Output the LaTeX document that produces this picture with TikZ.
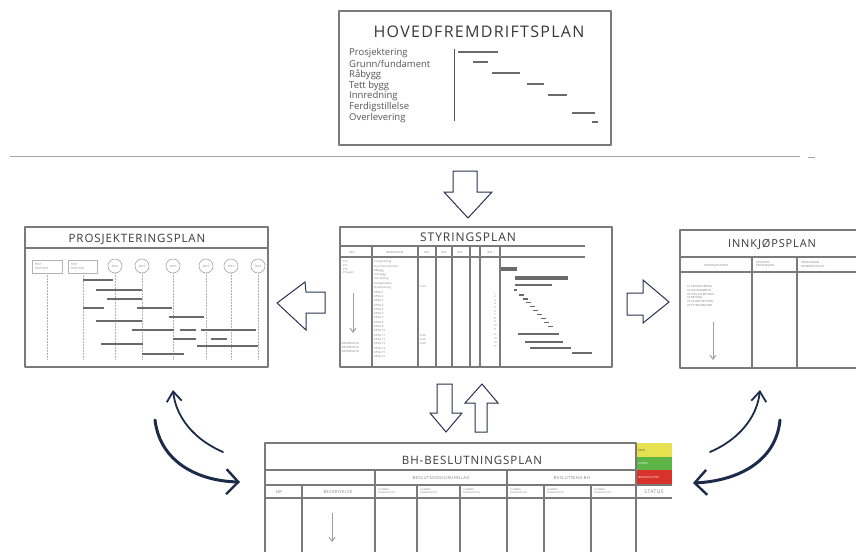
\documentclass[tikz,border=0pt]{standalone}
\usepackage{fontspec}
\setmainfont{Open Sans}
\newfontfamily\hand[LetterSpace=8]{Open Sans}
\usetikzlibrary{arrows.meta}
\definecolor{framegray}{HTML}{7A7A7A}
\definecolor{bargray}{HTML}{6A6A6A}
\definecolor{inkgray}{HTML}{555555}
\definecolor{titleink}{HTML}{383838}
\definecolor{navy}{HTML}{1C2B4A}
\definecolor{arrowink}{HTML}{2A3350}
\definecolor{statyellow}{HTML}{E6E14E}
\definecolor{statgreen}{HTML}{5DB548}
\definecolor{statred}{HTML}{D8322B}
\tikzset{
  frame/.style={draw=framegray, line width=2pt, line join=round},
  rule/.style={draw=framegray, line width=1.2pt},
  thinrule/.style={draw=framegray, line width=0.8pt},
  bar/.style={draw=bargray, line width=2.2pt},
  thinbar/.style={draw=bargray, line width=1.2pt},
  guide/.style={draw=gray!60, line width=0.5pt, densely dotted},
  title/.style={font=\hand\fontsize{#1}{#1}\selectfont, text=titleink, inner sep=0pt},
  tiny/.style={font=\fontsize{2.8}{3.4}\selectfont, text=gray, inner sep=0pt, align=left},
  label/.style={font=\fontsize{9.5}{10}\selectfont, text=inkgray, anchor=west, inner sep=0pt},
  bigarrow/.style={draw=arrowink, line width=1pt, fill=white, line join=miter},
  downarrow/.style={draw=gray!75, line width=1pt, -{Straight Barb[length=4pt,width=6pt]}},
  swoop/.style={draw=navy, line width=1.8pt, line cap=round, -{Straight Barb[length=10pt,width=15pt,line width=1.8pt]}},
  swoopthick/.style={draw=navy, line width=3pt, line cap=round, -{Straight Barb[length=12pt,width=25pt,line width=2.4pt]}},
}
\begin{document}
\begin{tikzpicture}[x=1pt,y=-1pt]
\useasboundingbox (0,0) rectangle (856,552);

% ---------------- main progress plan ----------------
\draw[frame] (339,11) rectangle (611,145);
\node[title=16] (hovtitle) at (479,32) {HOVEDFREMDRIFTSPLAN};
\foreach \t [count=\i] in {Prosjektering,Grunn/fundament,Råbygg,Tett bygg,Innredning,Ferdigstillelse,Overlevering}
  \node[label] (hov\i) at (349,{42.5+\i*10.8}) {\t};
\draw[draw=inkgray, line width=1pt] (454,49) -- (454,121);
\draw[thinbar] (458,52) -- (498,52);
\draw[thinbar] (473,62) -- (488,62);
\draw[thinbar] (492,73) -- (520,73);
\draw[thinbar] (527,84) -- (544,84);
\draw[thinbar] (548,95) -- (567,95);
\draw[thinbar] (572,113) -- (595,113);
\draw[thinbar] (592,122) -- (598,122);

% separator
\draw[draw=gray!70, line width=1pt] (10,156) -- (800,156);
\draw[draw=gray!70, line width=1pt] (808,157) -- (815,157);

% arrow down to the control plan
\draw[bigarrow] (453,171) -- (477,171) -- (477,192) -- (492,192) -- (468,218) -- (444,192) -- (453,192) -- cycle;

% ---------------- design plan ----------------
\draw[frame] (25,227) rectangle (268,367);
\draw[rule] (25,248) -- (268,248);
\node[title=11.5] (prostitle) at (137,239) {PROSJEKTERINGSPLAN};
\draw[thinrule, draw=gray!60, line width=0.5pt] (32,260) rectangle (62,273);
\draw[thinrule, draw=gray!60, line width=0.5pt] (68,260) rectangle (97,273);
\node[tiny, anchor=west] (hb1) at (35,266.5) {TEXT\\TEXT TEXT};
\node[tiny, anchor=west] (hb2) at (71,266.5) {TEXT\\TEXT TEXT};
\draw[guide] (47,273) -- (47,360);
\draw[guide] (83,273) -- (83,360);
\foreach \x [count=\i] in {115,142,173,206,231,258}{
  \draw[draw=gray!70, line width=0.6pt] (\x,266) circle (7);
  \node[tiny] (mc\i) at (\x,266) {TEXT};
  \draw[guide] (\x,273) -- (\x,360);
}
\draw[bar] (83,280) -- (113,280);
\draw[bar] (96,290) -- (142,290);
\draw[bar] (107,299) -- (142,299);
\draw[bar] (83,308) -- (104,308);
\draw[bar] (137,308) -- (172,308);
\draw[bar] (169,317) -- (204,317);
\draw[bar] (96,321) -- (142,321);
\draw[bar] (132,330) -- (174,330);
\draw[bar] (180,330) -- (196,330);
\draw[bar] (201,330) -- (256,330);
\draw[bar] (173,339) -- (196,339);
\draw[bar] (211,339) -- (227,339);
\draw[bar] (101,344) -- (143,344);
\draw[bar] (197,346) -- (258,346);
\draw[bar] (142,354) -- (184,354);

% arrow from control plan to design plan
\draw[bigarrow] (277,303) -- (305,282) -- (306,292) -- (325,292) -- (325,313) -- (306,313) -- (306,330) -- cycle;

% ---------------- control plan ----------------
\draw[frame] (340,227) rectangle (612,367);
\node[title=12] (stytitle) at (468,237) {STYRINGSPLAN};
\draw[rule] (340,246) -- (585,246);
\draw[rule] (340,257) -- (585,257);
\foreach \x in {372,418,436,452,470,480,500}
  \draw[rule] (\x,246) -- (\x,367);
\node[tiny] (sh1) at (352,252) {BFF};
\node[tiny] (sh2) at (395,252) {BESKRIVELSE};
\node[tiny] (sh3) at (427,252) {BFF};
\node[tiny] (sh4) at (444,252) {BFF};
\node[tiny] (sh5) at (460,252) {BFF};
\node[tiny] (sh6) at (490,252) {BFF};
\foreach \t [count=\i] in {Pro,Pro,Pro,Prosjekt}
  \node[tiny, anchor=west] (sl\i) at (343,{258+\i*3.8}) {\t};
\foreach \t [count=\i] in {Prosjektering,Grunn/fundament,Råbygg,Tett bygg,Innredning,Ferdigstillelse,Overlevering,KPSG 1,KPSG 2,KPSG 3,KPSG 4,KPSG 5,KPSG 6,KPSG 7,KPSG 8,KPSG 9,KPSG 10,KPSG 11,KPSG 12,KPSG 13,KPSG 14,KPSG 15,KPSG 16}
  \node[tiny, anchor=west] (sd\i) at (374,{257.7+\i*4.3}) {\t};
\node[tiny, anchor=west] (sa1) at (420,286) {A-02};
\node[tiny, anchor=west] (sa2) at (420,335) {A-02};
\node[tiny, anchor=west] (sa3) at (420,339) {A-04};
\node[tiny, anchor=west] (sa4) at (420,343) {A-05};
\foreach \i in {1,...,11}
  \node[tiny] (sn\i) at (495,{289.5+\i*3.6}) {\i};
\foreach \t [count=\i] in {12,13,14,15}
  \node[tiny] (sm\i) at (495,{331+\i*3.8}) {\t};
\foreach \i in {1,2,3}
  \node[tiny, anchor=west] (sb\i) at (342,{339+\i*4}) {BESKRIVELSE};
\draw[downarrow] (353,293) -- (353,333);
\draw[draw=bargray, line width=4pt] (501,269) -- (517,269);
\draw[draw=bargray, line width=4pt] (515,278) -- (568,278);
\draw[thinbar] (515,285) -- (552,285);
\draw[thinbar] (514,290) -- (517,290);
\foreach \i in {0,...,8}
  \draw[thinbar] ({519+\i*3.6},{295+\i*3.9}) -- ({524+\i*3.6},{295+\i*3.9});
\draw[thinbar] (518,334) -- (559,334);
\draw[thinbar] (525,342) -- (563,342);
\draw[thinbar] (530,348) -- (571,348);
\draw[thinbar] (572,353) -- (592,353);

% arrow from control plan to purchasing plan
\draw[bigarrow] (627,293) -- (643,293) -- (643,280) -- (669,302) -- (643,323) -- (643,315) -- (627,315) -- cycle;

% ---------------- purchasing plan ----------------
\draw[frame] (856,230) -- (680,230) -- (680,368) -- (856,368);
\node[title=11] (inntitle) at (772,244) {INNKJØPSPLAN};
\draw[rule] (680,257) -- (856,257);
\draw[rule] (680,272) -- (856,272);
\draw[rule] (752,257) -- (752,368);
\draw[rule] (797,257) -- (797,368);
\node[tiny] (ih1) at (716,265) {KONTRAKTSFORM};
\node[tiny, anchor=west] (ih2) at (756,264.5) {OPPSTART\\PRODUKSJON};
\node[tiny, anchor=west] (ih3) at (801,264.5) {PRODUKSJON\\FREMDRIFTSPLAN};
\foreach \t [count=\i] in {01 PROSJEKTERING,02 GRUNNARBEID,03 STÅL OG BETONG,04 BETONG,05 FASADE BETONG,06 ETTERARBEIDER}
  \node[tiny, anchor=west] (il\i) at (687,{283.5+\i*3.6}) {\t};
\draw[downarrow] (713,322) -- (713,360);

% arrows between control plan and client decision plan
\draw[bigarrow] (437,384) -- (452,384) -- (452,413) -- (462,413) -- (446,432) -- (430,413) -- (437,413) -- cycle;
\draw[bigarrow] (475,432) -- (475,403) -- (465,403) -- (482,384) -- (498,403) -- (487,403) -- (487,432) -- cycle;

% ---------------- client decision plan ----------------
\fill[statyellow] (636,443) rectangle (672,457);
\fill[statgreen] (636,457) rectangle (672,470);
\fill[statred] (636,470) rectangle (672,484);
\node[tiny, anchor=west, text=gray!70!black] (cy) at (638,450) {ÅPEN};
\node[tiny, anchor=west, text=white] (cg) at (638,463.5) {LUKKET};
\node[tiny, anchor=west, text=white] (cr) at (638,477) {IKKE BESLUTTET};
\draw[frame] (265,552) -- (265,443) -- (636,443) -- (636,552);
\node[title=11.5] (bhtitle) at (472,460) {BH-BESLUTNINGSPLAN};
\draw[rule] (265,470) -- (636,470);
\draw[rule] (265,485) -- (672,485);
\draw[rule] (265,498) -- (672,498);
\draw[rule] (375,470) -- (375,552);
\draw[rule] (507,470) -- (507,552);
\foreach \x in {302,417,460,544,591}
  \draw[rule] (\x,485) -- (\x,552);
\node[tiny, font=\hand\fontsize{4.2}{5}\selectfont] (bg1) at (441,477.5) {BESLUTNINGSGRUNNLAG};
\node[tiny, font=\hand\fontsize{4.2}{5}\selectfont] (bg2) at (572,477.5) {BESLUTNING BH};
\node[tiny, font=\hand\fontsize{4.2}{5}\selectfont] (bc1) at (279,491.5) {NR};
\node[tiny, font=\hand\fontsize{4.2}{5}\selectfont] (bc2) at (338,491.5) {BESKRIVELSE};
\node[tiny, font=\hand\fontsize{5}{6}\selectfont] (bc3) at (654,491.5) {STATUS};
\foreach \x [count=\i] in {378,420,463,510,547,594}
  \node[tiny, anchor=west, font=\fontsize{2.4}{3}\selectfont] (bs\i) at (\x,491.5) {NUMMER\\REFERANSE NR};
\draw[downarrow] (332,513) -- (332,542);

% ---------------- feedback swoops ----------------
\coordinate (lt0) at (223,452);
\coordinate (lt1) at (173,390);
\coordinate (lk0) at (155,420);
\coordinate (lk1) at (240,482);
\coordinate (rt0) at (710,452);
\coordinate (rt1) at (760,390);
\coordinate (rk0) at (780,420);
\coordinate (rk1) at (693,483);
\draw[swoop] (lt0) .. controls (195,440) and (176,418) .. (lt1);
\draw[swoopthick] (lk0) .. controls (160,462) and (198,481) .. (lk1);
\draw[swoop] (rt0) .. controls (738,440) and (757,418) .. (rt1);
\draw[swoopthick] (rk0) .. controls (776,462) and (737,481) .. (rk1);
\end{tikzpicture}
\end{document}
